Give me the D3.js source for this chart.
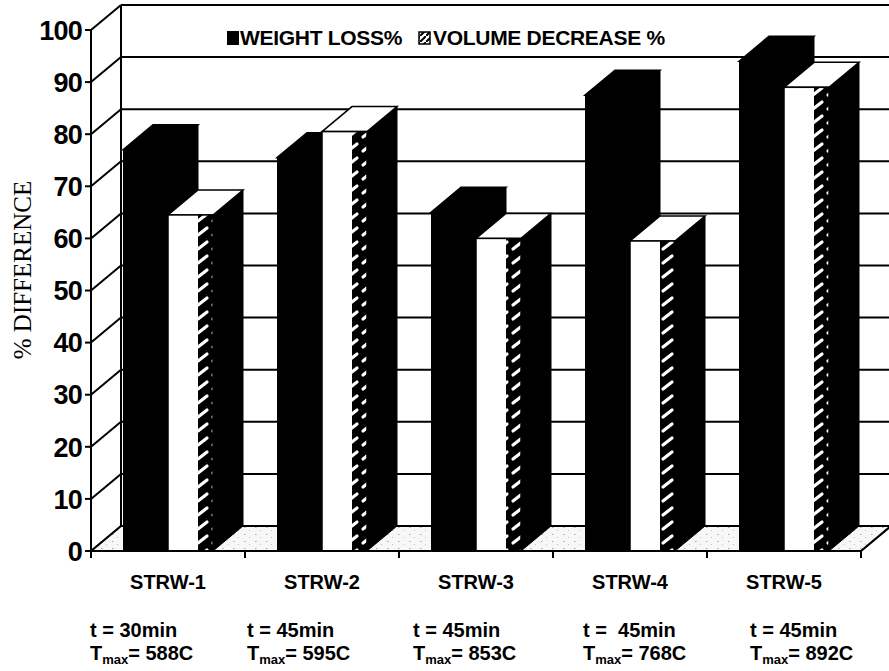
<!DOCTYPE html>
<html>
<head>
<meta charset="utf-8">
<script src="https://cdn.jsdelivr.net/npm/d3@7"></script>
<style>
  html, body { margin: 0; padding: 0; background: #fff; }
  svg { display: block; }
  text { font-family: "Liberation Sans", Arial, sans-serif; fill: #000; }
</style>
</head>
<body>
<svg id="chart" width="889" height="671"></svg>
<script>
// ---------- data ----------
const categories = ["STRW-1", "STRW-2", "STRW-3", "STRW-4", "STRW-5"];
const weightLoss = [77, 75.5, 65, 87.5, 94];
const volumeDecrease = [64.5, 80.5, 60, 59.5, 89];
const yTicks = [0, 10, 20, 30, 40, 50, 60, 70, 80, 90, 100];
const timeLabels = ["t = 30min", "t = 45min", "t = 45min", "t =  45min", "t = 45min"];
const tmaxLabels = ["588C", "595C", "853C", "768C", "892C"];
const seriesNames = ["WEIGHT LOSS%", "VOLUME DECREASE %"];

// ---------- layout ----------
const W = 889, H = 671;
const DX = 30, DY = -25;            // depth offset of the 3D box
const annotX = [90, 247, 413, 583, 750];

const svg = d3.select("#chart");
const defs = svg.append("defs");

// hatch pattern (white slanted strokes on black)
const hp = defs.append("pattern").attr("id", "hatch").attr("patternUnits", "userSpaceOnUse")
  .attr("width", 15).attr("height", 14);
hp.append("rect").attr("width", 15).attr("height", 14).attr("fill", "#000");
hp.append("line").attr("x1", 3).attr("y1", 11).attr("x2", 12).attr("y2", 4)
  .attr("stroke", "#fff").attr("stroke-width", 3.2).attr("stroke-linecap", "round");

// floor speckle
const fp = defs.append("pattern").attr("id", "floor").attr("patternUnits", "userSpaceOnUse")
  .attr("width", 11).attr("height", 7);
fp.append("rect").attr("width", 11).attr("height", 7).attr("fill", "#f7f7f7");
fp.append("rect").attr("x", 2).attr("y", 2).attr("width", 1.5).attr("height", 1).attr("fill", "#aaa");
fp.append("rect").attr("x", 7).attr("y", 5).attr("width", 1).attr("height", 1).attr("fill", "#c4c4c4");

// legend hatch (black strokes on white)
const lp = defs.append("pattern").attr("id", "lhatch").attr("patternUnits", "userSpaceOnUse")
  .attr("width", 6).attr("height", 6);
lp.append("rect").attr("width", 6).attr("height", 6).attr("fill", "#fff");
lp.append("path").attr("d", "M0,6 L6,0").attr("stroke", "#000").attr("stroke-width", 2);

const y = d3.scaleLinear().domain([0, 100]).range([551, 30]);
const x = d3.scaleBand().domain(categories).range([91, 861]).padding(0);
const inner = d3.scaleBand().domain(["w", "v"]).range([32, 122]).padding(0);

const x0 = 91, x1 = 861;
const yb = y(0);

// ---------- walls ----------
svg.append("rect").attr("x", x0 + DX).attr("y", y(100) + DY)
  .attr("width", W - (x0 + DX)).attr("height", yb - y(100)).attr("fill", "#fff");
svg.append("polygon")
  .attr("points", [[x0, yb], [x1, yb], [x1 + DX, yb + DY], [x0 + DX, yb + DY]].map(p => p.join(",")).join(" "))
  .attr("fill", "url(#floor)").attr("stroke", "#000").attr("stroke-width", 1.5);

const grid = svg.append("g").attr("stroke", "#000").attr("stroke-width", 2).attr("fill", "none");
grid.selectAll("line.bg").data(yTicks).join("line").attr("class", "bg")
  .attr("x1", x0 + DX).attr("x2", W + 5)
  .attr("y1", d => y(d) + DY).attr("y2", d => y(d) + DY);
grid.selectAll("line.sd").data(yTicks).join("line").attr("class", "sd")
  .attr("x1", x0).attr("y1", d => y(d))
  .attr("x2", x0 + DX).attr("y2", d => y(d) + DY);
grid.append("line").attr("x1", x0 + DX).attr("x2", x0 + DX)
  .attr("y1", y(100) + DY).attr("y2", yb + DY);

// ---------- bars ----------
const barsG = svg.append("g");
function drawBar(bx, w, v, kind) {
  const yt = y(v);
  const g = barsG.append("g");
  g.append("polygon")
    .attr("points", [[bx + w, yt], [bx + w + DX, yt + DY], [bx + w + DX, yb + DY], [bx + w, yb]].map(p => p.join(",")).join(" "))
    .attr("fill", "#000").attr("stroke", "#000").attr("stroke-width", 1);
  g.append("polygon")
    .attr("points", [[bx, yt], [bx + DX, yt + DY], [bx + w + DX, yt + DY], [bx + w, yt]].map(p => p.join(",")).join(" "))
    .attr("fill", kind === "w" ? "#000" : "#fff").attr("stroke", "#000").attr("stroke-width", 1.5);
  if (kind === "w") {
    g.append("rect").attr("x", bx).attr("y", yt).attr("width", w).attr("height", yb - yt).attr("fill", "#000");
  } else {
    const ww = w * 2 / 3;
    g.append("rect").attr("x", bx).attr("y", yt).attr("width", ww).attr("height", yb - yt).attr("fill", "#fff");
    g.append("rect").attr("x", bx + ww).attr("y", yt).attr("width", w - ww).attr("height", yb - yt).attr("fill", "url(#hatch)");
    g.append("rect").attr("x", bx).attr("y", yt).attr("width", w).attr("height", yb - yt)
      .attr("fill", "none").attr("stroke", "#000").attr("stroke-width", 1.5);
  }
}
categories.forEach((c, i) => {
  drawBar(x(c) + inner("w"), inner.bandwidth(), weightLoss[i], "w");
  drawBar(x(c) + inner("v"), inner.bandwidth(), volumeDecrease[i], "v");
});

// ---------- front axis / floor edges ----------
const ax = svg.append("g").attr("stroke", "#000").attr("stroke-width", 2).attr("fill", "none");
ax.append("line").attr("x1", x0).attr("x2", x0).attr("y1", y(100)).attr("y2", yb);
ax.append("line").attr("x1", x0).attr("x2", x1).attr("y1", yb).attr("y2", yb);
ax.append("line").attr("x1", x1).attr("y1", yb).attr("x2", x1 + DX).attr("y2", yb + DY);
ax.selectAll("line.yt").data(yTicks).join("line").attr("class", "yt")
  .attr("x1", x0 - 6).attr("x2", x0).attr("y1", d => y(d)).attr("y2", d => y(d));
const bounds = categories.map(c => x(c)).concat([x1]);
ax.selectAll("line.xt").data(bounds).join("line").attr("class", "xt")
  .attr("x1", d => d).attr("x2", d => d).attr("y1", yb).attr("y2", yb + 7);

// y tick labels
svg.append("g").selectAll("text").data(yTicks).join("text")
  .attr("x", 82).attr("y", d => y(d)).attr("dy", "0.36em")
  .attr("text-anchor", "end").attr("font-size", 27).attr("font-weight", "bold")
  .attr("letter-spacing", "-0.8")
  .text(d => d);

// y axis title
svg.append("text")
  .attr("transform", "translate(31,270) rotate(-90)")
  .attr("text-anchor", "middle")
  .style("font-family", "'Liberation Serif', 'Times New Roman', serif")
  .style("fill", "#000")
  .attr("font-size", 25)
  .text("% DIFFERENCE");

// category labels
svg.append("g").selectAll("text").data(categories).join("text")
  .attr("x", d => x(d) + x.bandwidth() / 2).attr("y", 589)
  .attr("text-anchor", "middle").attr("font-size", 20).attr("font-weight", "bold")
  .text(d => d);

// annotations
const ann = svg.append("g").attr("font-weight", "bold").attr("font-size", 20);
ann.selectAll("text.t").data(timeLabels).join("text").attr("class", "t")
  .attr("x", (d, i) => annotX[i]).attr("y", 637)
  .style("white-space", "pre").attr("xml:space", "preserve")
  .text(d => d);
const tm = ann.selectAll("text.tm").data(tmaxLabels).join("text").attr("class", "tm")
  .attr("x", (d, i) => annotX[i]).attr("y", 660);
tm.append("tspan").text("T");
tm.append("tspan").attr("font-size", 13).attr("dy", 4).text("max");
tm.append("tspan").attr("dy", -4).text(d => "= " + d);

// legend
const lg = svg.append("g").attr("font-size", 21).attr("font-weight", "bold");
lg.append("rect").attr("x", 227).attr("y", 31).attr("width", 12).attr("height", 14).attr("fill", "#000");
lg.append("text").attr("x", 240).attr("y", 45).attr("letter-spacing", "-0.3").text(seriesNames[0]);
lg.append("rect").attr("x", 419).attr("y", 32).attr("width", 11).attr("height", 12)
  .attr("fill", "url(#lhatch)").attr("stroke", "#000").attr("stroke-width", 1.5);
lg.append("text").attr("x", 433).attr("y", 45).attr("letter-spacing", "-0.3").text(seriesNames[1]);
</script>
</body>
</html>
